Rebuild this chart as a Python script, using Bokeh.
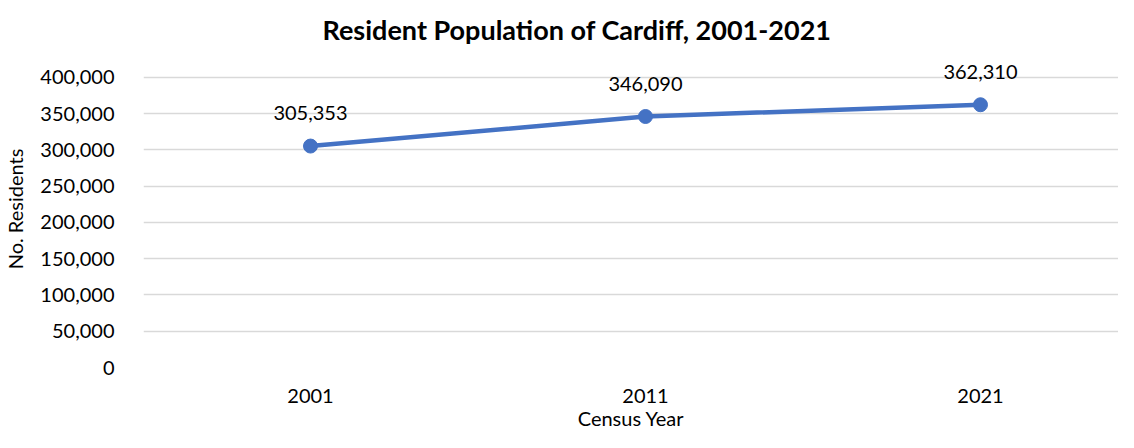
from bokeh.plotting import figure
from bokeh.models import ColumnDataSource, NumeralTickFormatter, FixedTicker, Range1d
from bokeh.embed import file_html
from bokeh.resources import INLINE
from bokeh.core.properties import value

years = [2001, 2011, 2021]
residents = [305353, 346090, 362310]
labels = ["305,353", "346,090", "362,310"]
y_ticks = [0, 50000, 100000, 150000, 200000, 250000, 300000, 350000, 400000]

FONT = "Lato"
BLUE = "#4472C4"
TICK_SIZE = "20px"

src = ColumnDataSource(dict(x=years, y=residents, lab=labels))

p = figure(width=1118, height=432, output_backend="svg", toolbar_location=None,
           x_range=Range1d(1996.015, 2025.12), y_range=Range1d(0, 437113),
           min_border_left=143, min_border_right=0, min_border_top=50, min_border_bottom=64,
           title="Resident Population of Cardiff, 2001-2021")
p.outline_line_color = None
p.background_fill_color = "white"
p.border_fill_color = "white"

p.title.align = "left"
p.title.offset = 179
p.title.text_font = FONT
p.title.text_font_style = "bold"
p.title.text_font_size = "27px"
p.title.text_color = "#000000"
p.title.standoff = 9

p.xgrid.grid_line_color = None
p.ygrid.grid_line_color = "#D9D9D9"
p.ygrid.grid_line_width = 1.5
p.yaxis.ticker = FixedTicker(ticks=y_ticks)
p.xaxis.ticker = FixedTicker(ticks=years)
p.yaxis.formatter = NumeralTickFormatter(format="0,0")

for ax in (p.xaxis, p.yaxis):
    ax.axis_line_color = None
    ax.major_tick_line_color = None
    ax.minor_tick_line_color = None
    ax.major_label_text_font = FONT
    ax.major_label_text_font_size = TICK_SIZE
    ax.major_label_text_color = "#000000"
    ax.axis_label_text_font = FONT
    ax.axis_label_text_font_size = TICK_SIZE
    ax.axis_label_text_font_style = "normal"
    ax.axis_label_text_color = "#000000"

p.yaxis.axis_label = "No. Residents"
p.yaxis.major_label_standoff = 23
p.yaxis.axis_label_standoff = 10
p.xaxis.axis_label = "Census Year"
p.xaxis.major_label_standoff = 15
p.xaxis.axis_label_standoff = 0

p.line("x", "y", source=src, line_color=BLUE, line_width=4.5)
p.scatter("x", "y", source=src, size=14, fill_color=BLUE, line_color=BLUE)
p.text("x", "y", text="lab", source=src, text_align="center", text_baseline="middle",
       y_offset=-33, text_font=value(FONT), text_font_size=TICK_SIZE, text_color="#000000")

open("out.html", "w").write(file_html(p, INLINE))
